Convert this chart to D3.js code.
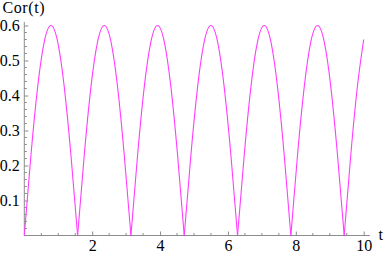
<!DOCTYPE html>
<html>
<head>
<meta charset="utf-8">
<script src="https://cdn.jsdelivr.net/npm/d3@7"></script>
<style>
  body { margin: 0; background: #fff; }
  svg text { font-family: "Liberation Serif", "Times New Roman", serif !important; }
</style>
</head>
<body>
<div class="container"></div>
<script>
const times = [
  0, 0.196, 0.393, 0.589, 0.785, 0.982, 1.178, 1.374, 1.571,
  1.767, 1.963, 2.160, 2.356, 2.553, 2.749, 2.945, 3.142,
  3.338, 3.534, 3.731, 3.927, 4.123, 4.320, 4.516, 4.712,
  4.909, 5.105, 5.301, 5.498, 5.694, 5.890, 6.087, 6.283,
  6.480, 6.676, 6.872, 7.069, 7.265, 7.461, 7.658, 7.854,
  8.050, 8.247, 8.443, 8.639, 8.836, 9.032, 9.228, 9.425,
  9.621, 9.817, 10.0
];
const cor = [
  0, 0.230, 0.424, 0.554, 0.600, 0.554, 0.424, 0.230, 0,
  0.230, 0.424, 0.554, 0.600, 0.554, 0.424, 0.230, 0,
  0.230, 0.424, 0.554, 0.600, 0.554, 0.424, 0.230, 0,
  0.230, 0.424, 0.554, 0.600, 0.554, 0.424, 0.230, 0,
  0.230, 0.424, 0.554, 0.600, 0.554, 0.424, 0.230, 0,
  0.230, 0.424, 0.554, 0.600, 0.554, 0.424, 0.230, 0,
  0.232, 0.428, 0.560
];
const xTicks = [2, 4, 6, 8, 10];
const yTicks = [0.1, 0.2, 0.3, 0.4, 0.5, 0.6];

const width = 384;
const height = 255;
const serif = '"Liberation Serif"';

const x = d3.scaleLinear().domain([0, 10]).range([24.3, 363.7]);
const y = d3.scaleLinear().domain([0, 0.6]).range([235.5, 25.5]);

const svg = d3.select('.container')
  .append('svg')
  .attr('width', width)
  .attr('height', height);

const axisColor = '#8c8c8c';

// minor ticks
const xMinor = d3.range(0.5, 10.01, 0.5).filter(v => xTicks.indexOf(v) < 0);
const yMinor = d3.range(0.02, 0.605, 0.02).filter(v => !yTicks.some(t => Math.abs(t - v) < 1e-6));

// x axis
const xAxis = svg.append('g').attr('transform', `translate(0,${y(0)})`)
  .call(d3.axisBottom(x).tickValues(xTicks).tickSizeInner(-4).tickSizeOuter(0).tickPadding(9));
xAxis.select('.domain').attr('d', `M${x(0)},0H${x(10.18)}`);
xAxis.selectAll('g.minor').data(xMinor).enter().append('line')
  .attr('x1', d => x(d)).attr('x2', d => x(d)).attr('y1', 0).attr('y2', -2.5);

// y axis
const yAxis = svg.append('g').attr('transform', `translate(${x(0)},0)`)
  .call(d3.axisLeft(y).tickValues(yTicks).tickFormat(d3.format('.1f')).tickSizeInner(-4).tickSizeOuter(0).tickPadding(9));
yAxis.select('.domain').attr('d', `M0,${y(0)}V${y(0.61)}`);
yAxis.selectAll('g.minor').data(yMinor).enter().append('line')
  .attr('x1', 0).attr('x2', 2.5).attr('y1', d => y(d)).attr('y2', d => y(d));

svg.selectAll('g').attr('font-family', null);
svg.selectAll('.domain, .tick line, line').attr('stroke', axisColor);
svg.selectAll('.tick text')
  .attr('fill', '#000')
  .style('font-family', serif)
  .style('font-size', '16px');
xAxis.selectAll('.tick text').attr('dy', '0.71em').attr('y', 4.5);
yAxis.selectAll('.tick text').attr('x', -4.5).attr('dy', '0.34em');

// axis labels
svg.append('text').attr('x', 2.5).attr('y', 13)
  .style('font-family', serif).style('font-size', '16px')
  .attr('letter-spacing', 0.6).text('Cor(t)');
svg.append('text').attr('x', 378.5).attr('y', 240)
  .style('font-family', serif).style('font-size', '16px').text('t');

// split the samples into arches at the zeros
const pts = times.map((t, i) => [t, cor[i]]);
const arches = [];
let cur = [];
pts.forEach((p, i) => {
  cur.push(p);
  if (p[1] === 0 && i > 0) {
    arches.push(cur);
    cur = [p];
  }
});
if (cur.length > 1) arches.push(cur);

const line = d3.line()
  .x(d => x(d[0]))
  .y(d => y(d[1]))
  .curve(d3.curveNatural);

svg.append('g').selectAll('path.arch')
  .data(arches)
  .enter().append('path')
  .attr('class', 'arch')
  .attr('d', line)
  .attr('fill', 'none')
  .attr('stroke', '#ff3dff')
  .attr('stroke-width', 1.1);
</script>
</body>
</html>
